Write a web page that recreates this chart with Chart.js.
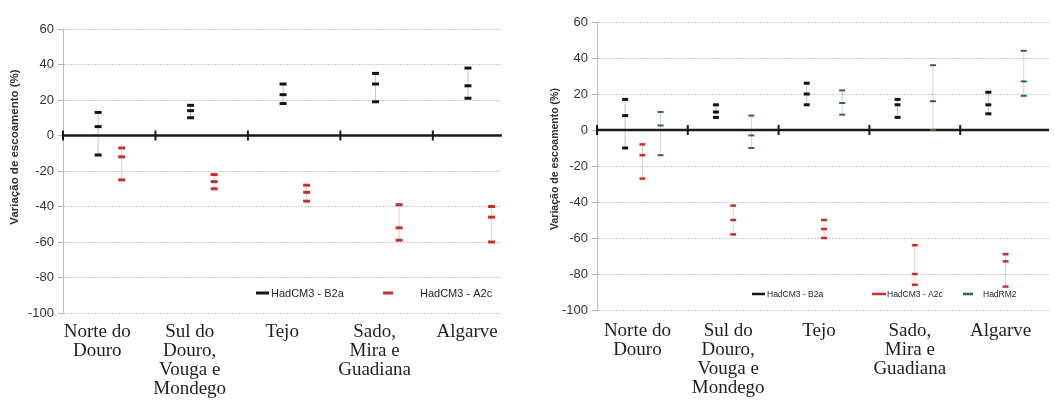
<!DOCTYPE html>
<html>
<head>
<meta charset="utf-8">
<script src="https://cdn.jsdelivr.net/npm/chart.js@4.4.0/dist/chart.umd.min.js"></script>
<style>
  body { margin: 0; background: #fff; overflow: hidden; }
  .box { position: absolute; top: 0; height: 401px; }
  #left { left: 0; width: 520px; }
  #right { left: 540px; width: 515px; }
</style>
</head>
<body>
<div class="box" id="left"><canvas id="chartLeft"></canvas></div>
<div class="box" id="right"><canvas id="chartRight"></canvas></div>
<script>
const regions = [
  ["Norte do", "Douro"],
  ["Sul do", "Douro,", "Vouga e", "Mondego"],
  ["Tejo"],
  ["Sado,", "Mira e", "Guadiana"],
  ["Algarve"]
];
const yMin = -100;
const yMax = 60;
const yStep = 20;

// left panel: HadCM3 scenarios (three values per region)
const leftB2a = [[13, 5, -11], [17, 14, 10], [29, 23, 18], [35, 29, 19], [38, 28, 21]];
const leftA2c = [[-7, -12, -25], [-22, -26, -30], [-28, -32, -37], [-39, -52, -59], [-40, -46, -60]];

// right panel: HadCM3 + HadRM2
const rightB2a = [[17, 8, -10], [14, 10, 7], [26, 20, 14], [17, 14, 7], [21, 14, 9]];
const rightA2c = [[-8, -14, -27], [-42, -50, -58], [-50, -55, -60], [-64, -80, -86], [-69, -73, -87]];
const rightRM2 = [[10, 2.5, -14], [8, -3, -10], [22, 15, 8.5], [36, 16, 0], [44, 27, 19]];

const BLACK = "#141414";
const RED = "#c62f2f";
const GREEN = "#2d6a3c";

function faint(hex, a) {
  const n = parseInt(hex.slice(1), 16);
  return `rgba(${n >> 16},${(n >> 8) & 255},${n & 255},${a})`;
}

function series(label, values, color, offset, radius, width) {
  const pts = [];
  values.forEach((vals, i) => {
    vals.forEach(v => pts.push({ x: i + offset, y: v }));
    pts.push({ x: i + offset, y: null });
  });
  return {
    label: label,
    data: pts,
    showLine: true,
    borderColor: faint(color, 0.09),
    borderWidth: 1,
    pointStyle: "line",
    pointRadius: radius,
    pointHoverRadius: radius,
    pointBorderWidth: width,
    pointBorderColor: color,
    pointBackgroundColor: color
  };
}

// zero line with crossing ticks at region boundaries
const zeroAxis = {
  id: "zeroAxis",
  beforeDatasetsDraw(chart) {
    const { ctx, chartArea, scales } = chart;
    const y0 = scales.y.getPixelForValue(0);
    ctx.save();
    ctx.strokeStyle = "#1a1a1a";
    ctx.lineWidth = 2.5;
    ctx.beginPath();
    ctx.moveTo(chartArea.left, y0);
    ctx.lineTo(chartArea.right, y0);
    ctx.stroke();
    ctx.lineWidth = 2;
    for (let k = 0; k <= regions.length; k++) {
      const x = scales.x.getPixelForValue(k - 0.5);
      if (x > chartArea.right + 1) continue;
      ctx.beginPath();
      ctx.moveTo(x, y0 - 5);
      ctx.lineTo(x, y0 + 5);
      ctx.stroke();
    }
    ctx.restore();
  }
};

const insideLegend = {
  id: "insideLegend",
  afterDraw(chart, args, opts) {
    const { ctx, chartArea } = chart;
    const y = chartArea.bottom - opts.lift;
    ctx.save();
    ctx.font = opts.font;
    ctx.textBaseline = "middle";
    ctx.fillStyle = "#262626";
    opts.items.forEach(it => {
      const x = chartArea.left + it.x;
      ctx.strokeStyle = it.color;
      ctx.lineWidth = opts.lineWidth;
      ctx.beginPath();
      ctx.moveTo(x, y);
      ctx.lineTo(x + it.w, y);
      ctx.stroke();
      ctx.fillText(it.text, x + it.w + it.gap, y + 0.5);
    });
    ctx.restore();
  }
};

const yTitle = {
  id: "yTitle",
  afterDraw(chart, args, opts) {
    const { ctx, chartArea } = chart;
    ctx.save();
    ctx.translate(opts.x, (chartArea.top + chartArea.bottom) / 2 + opts.dy);
    ctx.rotate(-Math.PI / 2);
    ctx.font = opts.font;
    ctx.fillStyle = "#303030";
    ctx.textAlign = "center";
    ctx.textBaseline = "middle";
    ctx.fillText("Variação de escoamento (%)", 0, 0);
    ctx.restore();
  }
};

function makeChart(canvas, cfg) {
  return new Chart(canvas.getContext("2d"), {
    type: "scatter",
    data: { datasets: cfg.datasets },
    plugins: [zeroAxis, insideLegend, yTitle],
    options: {
      responsive: true,
      maintainAspectRatio: false,
      animation: false,
      layout: { padding: cfg.padding },
      plugins: {
        legend: { display: false },
        tooltip: { enabled: false },
        insideLegend: cfg.legend,
        yTitle: cfg.title
      },
      scales: {
        x: {
          type: "linear",
          min: -0.5,
          max: cfg.xMax,
          grid: { display: false, drawTicks: false },
          border: { display: false },
          afterBuildTicks(scale) {
            scale.ticks = regions.map((r, i) => ({ value: i }));
          },
          afterFit(scale) {
            scale.height = cfg.xHeight;
          },
          ticks: {
            autoSkip: false,
            maxRotation: 0,
            minRotation: 0,
            padding: cfg.xPad,
            labelOffset: cfg.labelOffset,
            color: "#1e1e1e",
            font: { family: "'Liberation Serif', 'Times New Roman', serif", size: 19, lineHeight: 1.0 },
            callback: v => regions[v]
          }
        },
        y: {
          min: yMin,
          max: yMax,
          afterFit(scale) {
            scale.width = cfg.yWidth;
          },
          grid: {
            color: "#cfcfcf",
            lineWidth: 1,
            tickLength: 5,
            tickColor: "#b5b5b5"
          },
          border: { display: true, color: "#bdbdbd", width: 1, dash: [2, 1] },
          ticks: {
            stepSize: yStep,
            padding: 4,
            color: "#333",
            font: { family: "'Liberation Sans', Arial, sans-serif", size: 13 }
          }
        }
      }
    }
  });
}

makeChart(document.getElementById("chartLeft"), {
  datasets: [
    series("HadCM3 - B2a", leftB2a, BLACK, -0.12, 3.5, 3),
    series("HadCM3 - A2c", leftA2c, RED, 0.135, 3.5, 3)
  ],
  padding: { top: 29, right: 6, left: 0, bottom: 0 },
  xMax: 4.247,
  xHeight: 88,
  xPad: 10,
  labelOffset: -12,
  yWidth: 63,
  legend: {
    font: "11px 'Liberation Sans', Arial, sans-serif",
    lift: 20,
    lineWidth: 3,
    items: [
      { text: "HadCM3 - B2a", color: BLACK, x: 193, w: 13, gap: 2 },
      { text: "HadCM3 - A2c", color: RED, x: 320, w: 10, gap: 27 }
    ]
  },
  title: { x: 15, dy: -24, font: "bold 11.5px 'Liberation Sans', Arial, sans-serif" }
});

makeChart(document.getElementById("chartRight"), {
  datasets: [
    series("HadCM3 - B2a", rightB2a, BLACK, -0.19, 3, 3),
    series("HadCM3 - A2c", rightA2c, RED, 0, 3, 2.5),
    series("HadRM2", rightRM2, GREEN, 0.2, 3, 2)
  ],
  padding: { top: 22, right: 0, left: 0, bottom: 0 },
  xMax: 4.478,
  xHeight: 91,
  xPad: 12,
  labelOffset: -5,
  yWidth: 57,
  legend: {
    font: "8.5px 'Liberation Sans', Arial, sans-serif",
    lift: 16,
    lineWidth: 2.5,
    items: [
      { text: "HadCM3 - B2a", color: BLACK, x: 155, w: 13, gap: 2 },
      { text: "HadCM3 - A2c", color: RED, x: 275, w: 14, gap: 1 },
      { text: "HadRM2", color: GREEN, x: 366, w: 10, gap: 10 }
    ]
  },
  title: { x: 15, dy: -7, font: "bold 10.5px 'Liberation Sans', Arial, sans-serif" }
});
</script>
</body>
</html>
